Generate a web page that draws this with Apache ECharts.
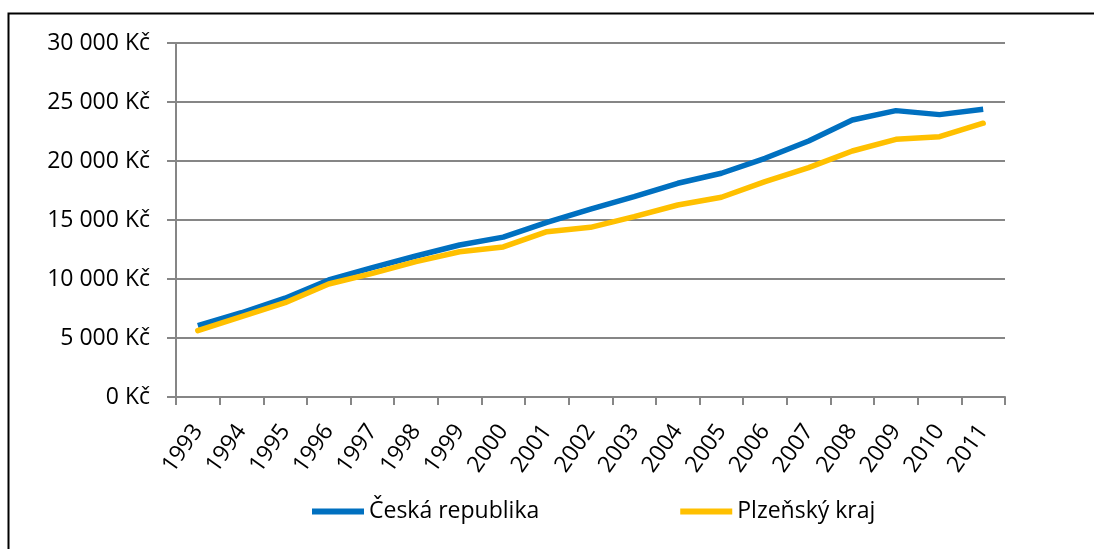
<!DOCTYPE html>
<html>
<head>
<meta charset="utf-8">
<script src="https://cdn.jsdelivr.net/npm/echarts@6/dist/echarts.min.js"></script>
<style>
html,body{margin:0;padding:0;background:#fff;}
#graf{width:1094px;height:549px;}
</style>
</head>
<body>
<div id="graf"></div>
<script>
// roky
var roky = ['1993','1994','1995','1996','1997','1998','1999','2000','2001','2002',
	'2003','2004','2005','2006','2007','2008','2009','2010','2011'];
// průměrná mzda - Česká republika
var cr = [6040, 7140, 8370, 9920, 10960, 11950, 12880, 13550, 14800, 15920,
	16980, 18110, 18960, 20230, 21700, 23480, 24270, 23930, 24380];
// průměrná mzda - Plzeňský kraj
var plzen = [5620, 6810, 7990, 9580, 10480, 11470, 12310, 12720, 14010, 14380,
	15280, 16270, 16930, 18250, 19440, 20850, 21840, 22060, 23200];
// popisky osy y
var osaY = [0, 5000, 10000, 15000, 20000, 25000, 30000];

function kc(v){
	return String(v).replace(/\B(?=(\d{3})+(?!\d))/g, ' ') + ' Kč';
}

var myChar = echarts.init(document.getElementById('graf'));
var pismo = 'Open Sans';
var option = {
	backgroundColor: '#fff',
	animation: false,
	textStyle: {fontFamily: pismo},
	graphic: [{
		type: 'rect',
		shape: {x: 8.5, y: 13.5, width: 1200, height: 600},
		style: {fill: 'none', stroke: '#000', lineWidth: 2}
	}],
	grid: {
		left: 176,
		right: 89,
		top: 43,
		bottom: 152
	},
	legend: {
		top: 495,
		left: 307,
		itemGap: 141,
		itemWidth: 52,
		itemHeight: 6,
		icon: 'rect',
		textStyle: {color: '#000', fontSize: 23, fontFamily: pismo},
		data: ['Česká republika', 'Plzeňský kraj']
	},
	xAxis: {
		type: 'category',
		boundaryGap: true,
		data: roky,
		axisLine: {lineStyle: {color: '#868686', width: 2}},
		axisTick: {show: true, length: 8, lineStyle: {color: '#868686', width: 2}},
		axisLabel: {
			color: '#000',
			fontSize: 23,
			rotate: 55,
			margin: 30,
			interval: 0
		}
	},
	yAxis: {
		type: 'value',
		min: osaY[0],
		max: osaY[osaY.length - 1],
		interval: 5000,
		axisLine: {show: true, lineStyle: {color: '#868686', width: 2}},
		axisTick: {show: true, length: 9, lineStyle: {color: '#868686', width: 2}},
		splitLine: {lineStyle: {color: '#868686', width: 2}},
		axisLabel: {
			color: '#000',
			fontSize: 23,
			margin: 26,
			formatter: kc
		}
	},
	series: [
		{
			name: 'Česká republika',
			type: 'line',
			data: cr,
			symbol: 'none',
			lineStyle: {color: '#0070C0', width: 5.5},
			itemStyle: {color: '#0070C0'}
		},
		{
			name: 'Plzeňský kraj',
			type: 'line',
			data: plzen,
			symbol: 'none',
			lineStyle: {color: '#FFC000', width: 5.5, cap: 'round'},
			itemStyle: {color: '#FFC000'}
		}
	]
};
myChar.setOption(option);
</script>
</body>
</html>
